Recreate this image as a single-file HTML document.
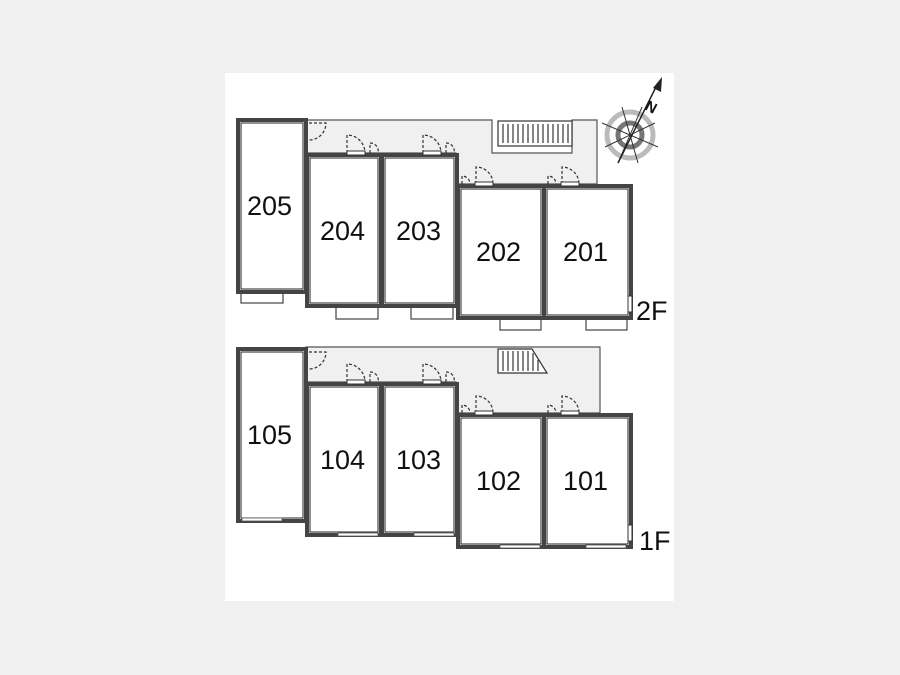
<!DOCTYPE html><html><head><style>body{margin:0;background:#f0f0f0;width:900px;height:675px;overflow:hidden}svg{display:block}text{font-family:"Liberation Sans",sans-serif;font-size:27px;fill:#111}</style></head><body>
<svg width="900" height="675" viewBox="0 0 900 675">
<rect x="225" y="73" width="449" height="528" fill="#fff"/>
<defs>
<g id="fl">
<g fill="#fff" stroke="#444" stroke-width="4">
<rect x="238" y="120" width="68" height="172"/>
<rect x="307" y="155" width="74" height="151"/>
<rect x="382" y="155" width="75" height="151"/>
<rect x="458" y="186" width="86" height="132"/>
<rect x="544" y="186" width="87" height="132"/>
</g>
<g fill="#fff" stroke="#222" stroke-width="1">
<rect x="241" y="123" width="62" height="166"/><rect x="310" y="158" width="68" height="145"/><rect x="385" y="158" width="69" height="145"/><rect x="461" y="189" width="80" height="126"/><rect x="547" y="189" width="81" height="126"/>
</g>
<g fill="none" stroke="#333" stroke-width="1.2" stroke-dasharray="3,2">
<path d="M347 153 V135 A18 18 0 0 1 365 153"/><path d="M370 153 V143 A8 8 0 0 1 378 153"/>
<path d="M423 153 V135 A18 18 0 0 1 441 153"/><path d="M446 153 V143 A8 8 0 0 1 454 153"/>
<path d="M476 184 V167 A17 17 0 0 1 493 184"/><path d="M462 184 V176 A8 8 0 0 1 470 184"/>
<path d="M562 184 V167 A17 17 0 0 1 579 184"/><path d="M548 184 V176 A8 8 0 0 1 556 184"/>
<path d="M309 123 H326 A17 17 0 0 1 309 140"/>
</g>
<g fill="#fff" stroke="#333" stroke-width="1"><rect x="347" y="151" width="18" height="4"/><rect x="423" y="151" width="18" height="4"/><rect x="475" y="182" width="18" height="4"/><rect x="561" y="182" width="18" height="4"/><rect x="628" y="296" width="4" height="16"/></g>
</g>
</defs>
<path d="M306 120 H492 V153 H572 V120 H597 V184 H456 V153 H306 Z" fill="#f0f0f0" stroke="#555" stroke-width="1.2"/>
<g fill="#fff" stroke="#444" stroke-width="1.2">
<rect x="241" y="291" width="42" height="12"/><rect x="336" y="306" width="42" height="13"/><rect x="411" y="306" width="42" height="13"/><rect x="500" y="318" width="41" height="12"/><rect x="586" y="318" width="41" height="12"/>
</g>
<use href="#fl"/>
<g fill="#fff" stroke="#333" stroke-width="1.2"><rect x="498" y="121" width="74" height="25"/></g>
<g stroke="#333" stroke-width="1.2"><path d="M503 124V143M508 124V143M513 124V143M518 124V143M523 124V143M528 124V143M533 124V143M538 124V143M543 124V143M548 124V143M553 124V143M558 124V143M563 124V143M568 124V143"/></g>
<text x="247" y="215">205</text><text x="320" y="240">204</text><text x="396" y="240">203</text><text x="476" y="261">202</text><text x="563" y="261">201</text><text x="636" y="320">2F</text>
<path d="M306 347 H600 V413 H456 V382 H306 Z" fill="#f0f0f0" stroke="#555" stroke-width="1.2"/>
<g transform="translate(0,229)"><use href="#fl"/></g>
<g fill="#fff" stroke="#555" stroke-width="0.8"><rect x="242" y="518" width="40" height="3"/><rect x="338" y="533" width="40" height="3"/><rect x="414" y="533" width="40" height="3"/><rect x="500" y="545" width="40" height="3"/><rect x="586" y="545" width="40" height="3"/></g>
<path d="M498 349 H532 L547 373 H498 Z" fill="#fff" stroke="#333" stroke-width="1.2"/>
<g stroke="#333" stroke-width="1.2"><path d="M503 351V371M508 351V371M513 351V371M518 351V371M523 351V371M528 351V371M533 353V371M538 360V371"/></g>
<text x="247" y="444">105</text><text x="320" y="469">104</text><text x="396" y="469">103</text><text x="476" y="490">102</text><text x="563" y="490">101</text><text x="639" y="550">1F</text>
<g transform="translate(630,135)">
<circle r="23" fill="none" stroke="#bbb" stroke-width="5"/>
<circle r="12" fill="none" stroke="#777" stroke-width="5"/>
<path d="M-28 -12 L28 12 M-8 -28 L8 28 M-25 12 L25 -12 M12 -28 L-12 28" stroke="#333" stroke-width="1"/>
<path d="M-12 28 L28 -52" stroke="#222" stroke-width="1.5"/><path d="M23 -47 L32 -58 L31 -43 Z" fill="#222"/>
<text x="0" y="0" transform="translate(14,-26) rotate(28)" style="font-size:15px;font-weight:bold">N</text>
</g>
</svg></body></html>
